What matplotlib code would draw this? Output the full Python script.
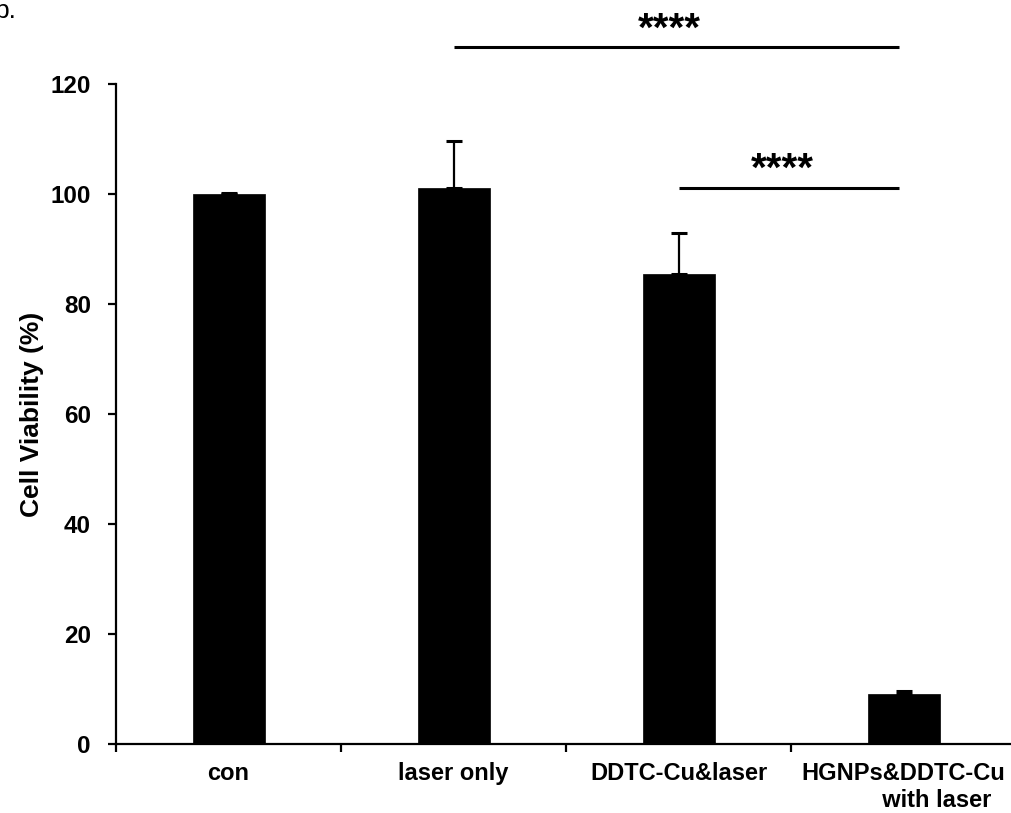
import matplotlib

matplotlib.use("Agg")
import matplotlib.pyplot as plt
from matplotlib.ticker import FixedLocator

plt.rcParams["font.family"] = ["Liberation Sans", "DejaVu Sans"]
plt.rcParams["font.weight"] = "bold"

# values
categories = ["con", "laser only", "DDTC-Cu&laser", "HGNPs&DDTC-Cu\n" + " " * 10 + "with laser"]
viability = [100.0, 101.1, 85.5, 9.1]
viability_err = [0.2, 8.5, 7.4, 0.6]

# significance brackets: (x start, x end, height, star x, star y)
sig_lines = [(1.0, 2.98, 126.7, 1.96, 129.8), (2.0, 2.98, 101.1, 2.46, 104.4)]
sig_text = "****"

W, H = 1011, 813
fig = plt.figure(figsize=(W / 100, H / 100), dpi=100)
ax = fig.add_axes([116 / W, 1 - 744 / H, 900 / W, 660 / H])

xpos = list(range(len(categories)))
ax.bar(xpos, viability, width=0.32, color="black", edgecolor="black", linewidth=0.5)
ax.errorbar(xpos, viability, yerr=[[0] * len(viability_err), viability_err], fmt="none",
            ecolor="black", elinewidth=1.6, capsize=6, capthick=2.2)

for x0, x1, y, sx, sy in sig_lines:
    ax.plot([x0, x1], [y, y], color="black", linewidth=2.2, clip_on=False,
            solid_capstyle="butt")
    ax.text(sx, sy, sig_text, ha="center", va="center", fontsize=29, fontweight="bold",
            clip_on=False)

ax.set_xlim(-0.5, 3.5)
ax.set_ylim(0, 120)
ax.set_yticks([0, 20, 40, 60, 80, 100, 120])
ax.set_xticks(xpos)
ax.set_xticklabels(categories, fontsize=17, fontweight="bold")
ax.xaxis.set_minor_locator(FixedLocator([-0.5, 0.5, 1.5, 2.5, 3.5]))
ax.tick_params(axis="x", which="major", length=0, pad=13)
ax.tick_params(axis="x", which="minor", length=6, width=1.6, direction="out")
ax.tick_params(axis="y", length=6, width=1.6, direction="out", pad=12, labelsize=17.5)
for lab in ax.get_yticklabels():
    lab.set_fontweight("bold")

ax.set_ylabel("Cell Viability (%)", fontsize=19, fontweight="bold", labelpad=5)

for side in ["top", "right"]:
    ax.spines[side].set_visible(False)
for side in ["left", "bottom"]:
    ax.spines[side].set_linewidth(1.6)

# partial panel letter at the top-left edge
fig.text(-6 / W, 1 - 18 / H, "b.", fontsize=19, fontweight="normal", ha="left", va="baseline")

fig.savefig("out.png", dpi=100)
